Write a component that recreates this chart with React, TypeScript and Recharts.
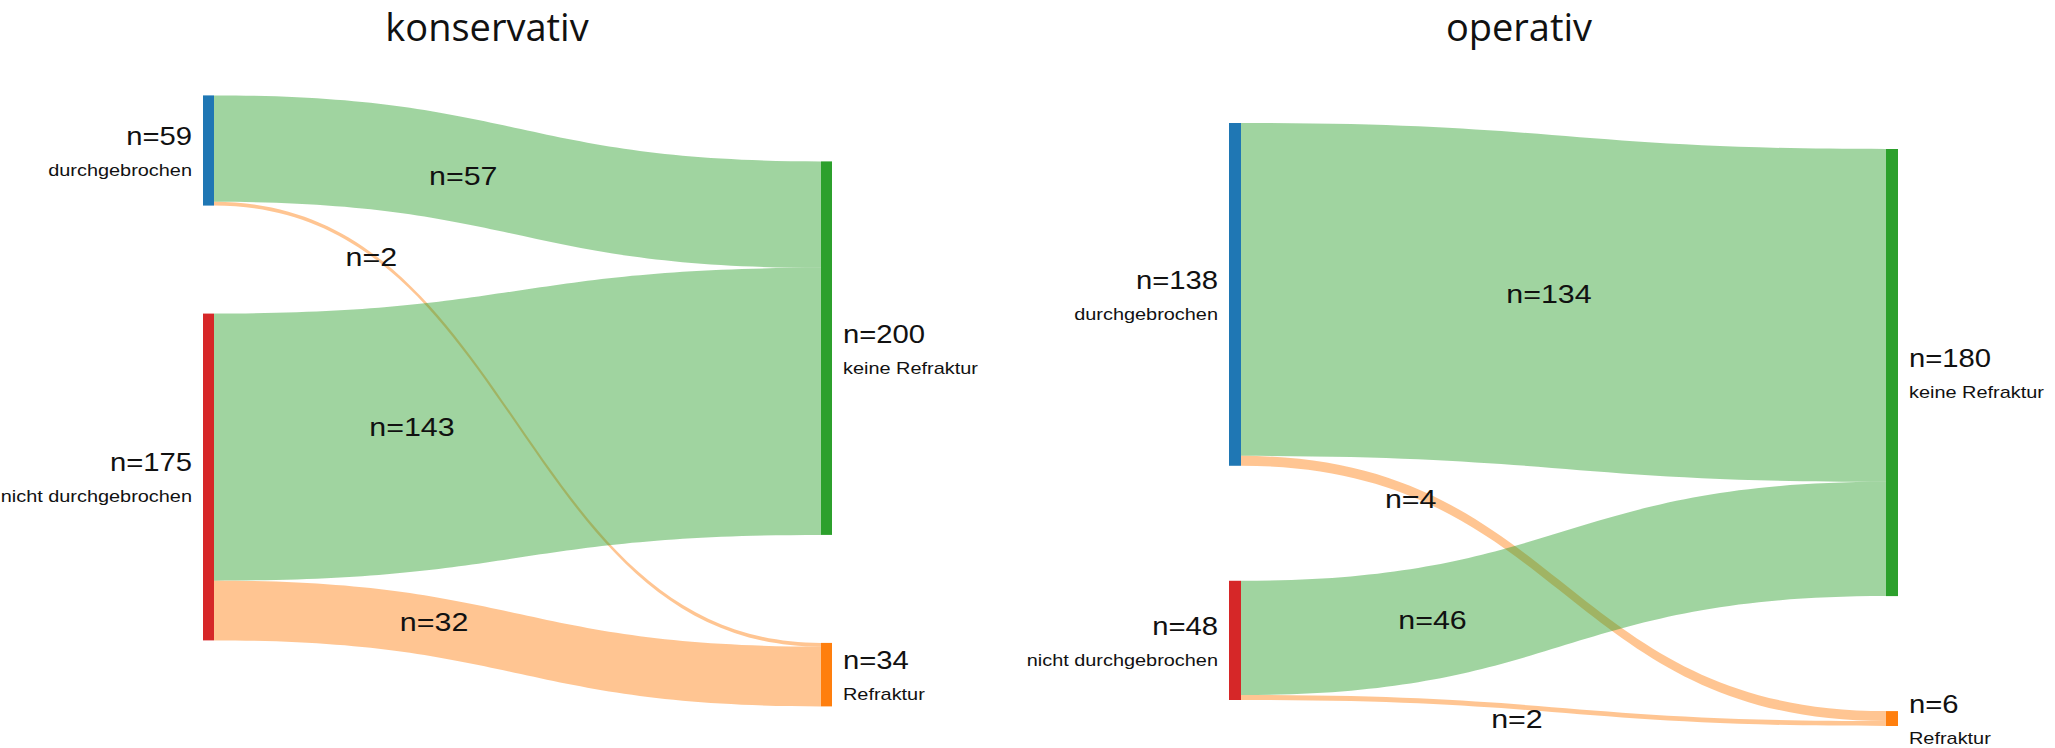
import React from "react";
import { Sankey } from "recharts";

// nodes are the same in both panels
const nodeNames = ["durchgebrochen", "nicht durchgebrochen", "keine Refraktur", "Refraktur"];

// konservativ
const konsSources = [0, 0, 1, 1];
const konsTargets = [2, 3, 2, 3];
const konsValues = [57, 2, 143, 32];

// operativ
const opSources = [0, 0, 1, 1];
const opTargets = [2, 3, 2, 3];
const opValues = [134, 4, 46, 2];

const titles = ["konservativ", "operativ"];

// where the link labels sit along each link (bezier t) and a small nudge
const konsLabelT = [0.383, 0.211, 0.282, 0.324];
const konsLabelDy = [6, 3, -11, -5];
const opLabelT = [0.47, 0.215, 0.25, 0.405];
const opLabelDy = [-7, 8, -2, 12];

const nodeColors: Record<string, string> = {
  "durchgebrochen": "#1f77b4",
  "nicht durchgebrochen": "#d62728",
  "keine Refraktur": "#2ca02c",
  "Refraktur": "#ff7f0e",
};
const linkColors: Record<string, string> = {
  "keine Refraktur": "rgba(44,160,44,0.45)",
  "Refraktur": "rgba(255,127,14,0.45)",
};

const FONT = "'Liberation Sans', Arial, sans-serif";
const STRETCH = 1.17;

const buildData = (sources: number[], targets: number[], values: number[]) => ({
  nodes: nodeNames.map((name) => ({ name })),
  links: sources.map((s, i) => ({ source: s, target: targets[i], value: values[i] })),
});

type PanelProps = {
  data: { nodes: { name: string }[]; links: { source: number; target: number; value: number }[] };
  left: number;
  width: number;
  margin: { top: number; left: number; right: number; bottom: number };
  nodeWidth: number;
  nodePadding: number;
  shift: number; // vertical offset of the right column
  labelT: number[];
  labelDy: number[];
};

function Label({ x, y, size, anchor, children }: any) {
  return (
    <text
      transform={`translate(${x},${y}) scale(${STRETCH},1)`}
      textAnchor={anchor}
      fontSize={size}
      fontFamily={FONT}
      fill="#111"
    >
      {children}
    </text>
  );
}

function SankeyPanel({ data, left, width, margin, nodeWidth, nodePadding, shift, labelT, labelDy }: PanelProps) {
  const renderNode = (props: any) => {
    const { x, y, width: w, height: h, payload } = props;
    const isRight = (payload?.depth ?? 0) > 0;
    const yy = y + (isRight ? shift : 0);
    const cy = yy + h / 2;
    const name = payload.name;
    return (
      <g>
        <rect x={x} y={yy} width={w} height={h} fill={nodeColors[name]} />
        <Label x={isRight ? x + w + 11 : x - 11} y={cy - 5.5} size={25} anchor={isRight ? "start" : "end"}>
          {`n=${payload.value}`}
        </Label>
        <Label x={isRight ? x + w + 11 : x - 11} y={cy + 25.5} size={17} anchor={isRight ? "start" : "end"}>
          {name}
        </Label>
      </g>
    );
  };

  const renderLink = (props: any) => {
    const { sourceX, targetX, sourceY, sourceControlX, targetControlX, linkWidth, index, payload } = props;
    const targetY = props.targetY + shift;
    const hw = linkWidth / 2;
    const d =
      `M${sourceX},${sourceY - hw} C${sourceControlX},${sourceY - hw} ${targetControlX},${targetY - hw} ${targetX},${targetY - hw} ` +
      `L${targetX},${targetY + hw} C${targetControlX},${targetY + hw} ${sourceControlX},${sourceY + hw} ${sourceX},${sourceY + hw} Z`;
    const t = labelT[index] ?? 0.4;
    const u = 1 - t;
    const lx = u * u * u * sourceX + 3 * u * u * t * sourceControlX + 3 * u * t * t * targetControlX + t * t * t * targetX;
    const ly = (u * u * u + 3 * u * u * t) * sourceY + (3 * u * t * t + t * t * t) * targetY + (labelDy[index] ?? 0);
    return (
      <g>
        <path d={d} fill={linkColors[payload.target.name]} stroke="none" />
        <Label x={lx} y={ly + 9} size={26} anchor="middle">
          {`n=${payload.value}`}
        </Label>
      </g>
    );
  };

  return (
    <div style={{ position: "absolute", left, top: 0 }}>
      <Sankey
        width={width}
        height={748}
        data={data}
        margin={margin}
        nodeWidth={nodeWidth}
        nodePadding={nodePadding}
        linkCurvature={0.5}
        verticalAlign="top"
        iterations={0}
        node={renderNode}
        link={renderLink}
        isAnimationActive={false}
      />
    </div>
  );
}

export default function App() {
  return (
    <div style={{ position: "absolute", left: 0, top: 0, width: 2055, height: 748, background: "#fff", overflow: "hidden" }}>
      <SankeyPanel
        data={buildData(konsSources, konsTargets, konsValues)}
        left={0}
        width={1030}
        margin={{ top: 95.4, left: 203, right: 198, bottom: 107.6 }}
        nodeWidth={11}
        nodePadding={108}
        shift={66}
        labelT={konsLabelT}
        labelDy={konsLabelDy}
      />
      <SankeyPanel
        data={buildData(opSources, opTargets, opValues)}
        left={900}
        width={1155}
        margin={{ top: 123, left: 329, right: 157, bottom: 48 }}
        nodeWidth={12}
        nodePadding={115}
        shift={26}
        labelT={opLabelT}
        labelDy={opLabelDy}
      />
      <svg width={2055} height={748} style={{ position: "absolute", left: 0, top: 0, pointerEvents: "none" }}>
        <text x={487} y={41} textAnchor="middle" fontSize={38} fontFamily="'Open Sans', sans-serif" fill="#111">
          {titles[0]}
        </text>
        <text x={1519} y={41} textAnchor="middle" fontSize={38} fontFamily="'Open Sans', sans-serif" fill="#111">
          {titles[1]}
        </text>
      </svg>
    </div>
  );
}
